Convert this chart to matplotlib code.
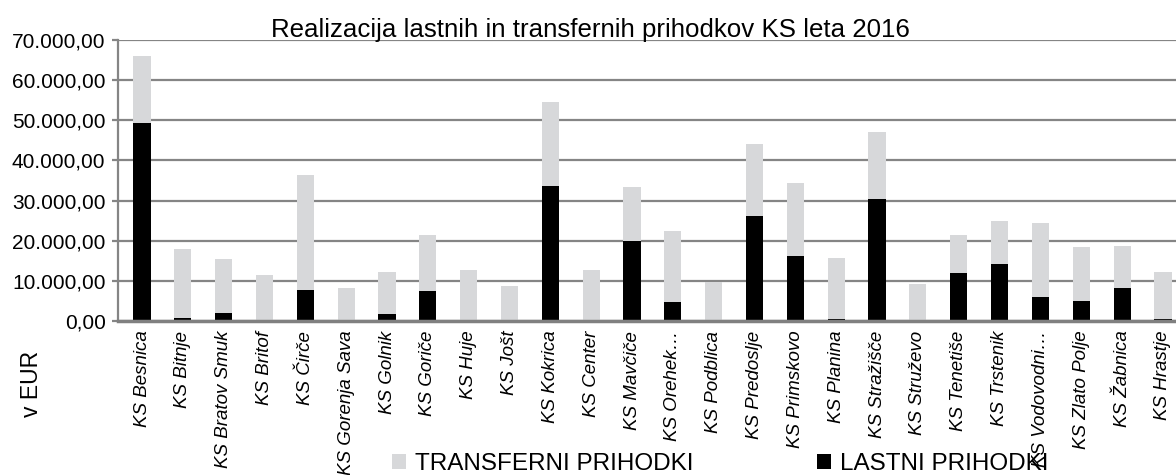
import numpy as np
import matplotlib
matplotlib.use("Agg")
import matplotlib.pyplot as plt
from matplotlib.ticker import FuncFormatter, MultipleLocator
from matplotlib.patches import Patch

plt.rcParams['font.family'] = ['Liberation Sans', 'DejaVu Sans']

# data (EUR)
skupnosti = ["KS Besnica", "KS Bitnje", "KS Bratov Smuk", "KS Britof", "KS Čirče",
             "KS Gorenja Sava", "KS Golnik", "KS Goriče", "KS Huje", "KS Jošt",
             "KS Kokrica", "KS Center", "KS Mavčiče", "KS Orehek…", "KS Podblica",
             "KS Predoslje", "KS Primskovo", "KS Planina", "KS Stražišče", "KS Struževo",
             "KS Tenetiše", "KS Trstenik", "KS Vodovodni…", "KS Zlato Polje", "KS Žabnica",
             "KS Hrastje"]
lastni = [49400, 750, 2000, 0, 7700,
          0, 1700, 7400, 0, 0,
          33600, 0, 20000, 4700, 0,
          26100, 16100, 400, 30300, 0,
          11900, 14100, 6000, 4900, 8200,
          400]
transferni = [16600, 17250, 13400, 11400, 28600,
              8200, 10400, 14100, 12800, 8700,
              20900, 12600, 13300, 17700, 9600,
              17900, 18200, 15400, 16700, 9100,
              9600, 10900, 18300, 13600, 10600,
              11800]

W, H = 1176, 475
fig = plt.figure(figsize=(W / 100, H / 100), dpi=100)
ax = fig.add_axes([118 / W, (H - 321) / H, (1176 - 118) / W, (321 - 40) / H])

x = np.arange(len(skupnosti))
grey_bar = '#d7d8da'
ax.bar(x, lastni, width=0.42, color='black', zorder=3)
ax.bar(x, transferni, width=0.42, bottom=lastni, color=grey_bar, zorder=3)

ax.set_ylim(0, 70000)
ax.set_xlim(-0.588, 25.32)
ax.yaxis.set_major_locator(MultipleLocator(10000))


def eur(v, pos):
    s = f"{v:,.2f}"
    return s.replace(",", "X").replace(".", ",").replace("X", ".")


ax.yaxis.set_major_formatter(FuncFormatter(eur))
ax.grid(axis='y', color='#858585', linewidth=1.6, zorder=0)
ax.set_axisbelow(True)

for s in ['top', 'right']:
    ax.spines[s].set_visible(False)
ax.spines['left'].set_color('#858585')
ax.spines['left'].set_linewidth(1.6)
ax.spines['bottom'].set_color('#808080')
ax.spines['bottom'].set_linewidth(2.5)
ax.spines['bottom'].set_zorder(4)

ax.tick_params(axis='y', labelsize=15, length=4, color='#858585', width=1.6, pad=5)
ax.set_xticks(x)
ax.set_xticklabels(skupnosti, rotation=90, style='italic', fontsize=13.5)
ax.tick_params(axis='x', length=0, pad=7)

fig.text(590 / W, 1 - 30 / H, "Realizacija lastnih in transfernih prihodkov KS leta 2016",
         ha='center', va='center', fontsize=18.6)
fig.text(32 / W, 1 - 384 / H, "v EUR", rotation=90, ha='center', va='center', fontsize=16.5)

handles = [Patch(facecolor=grey_bar, label="TRANSFERNI PRIHODKI"),
           Patch(facecolor='black', label="LASTNI PRIHODKI")]
fig.legend(handles=handles, ncol=2, loc='center left', bbox_to_anchor=(392 / W, 1 - 464 / H),
           frameon=False, fontsize=17.5, handlelength=0.58, handleheight=0.58,
           handletextpad=0.35, columnspacing=5.1, borderpad=0, borderaxespad=0)

fig.savefig("out.png", dpi=100)
